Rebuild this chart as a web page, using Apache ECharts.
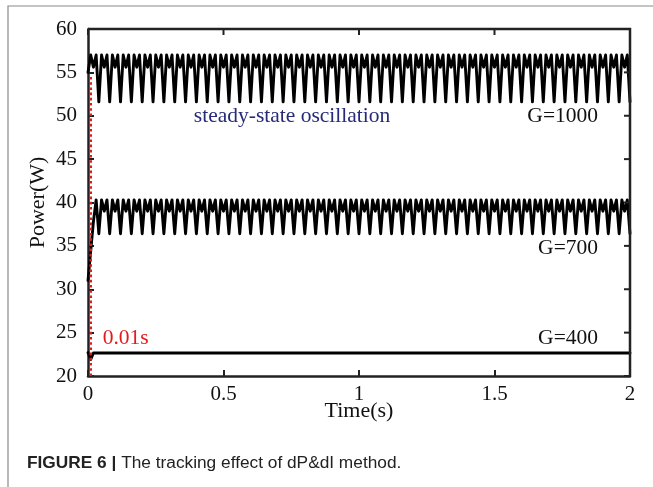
<!DOCTYPE html>
<html>
<head>
<meta charset="utf-8">
<script src="https://cdn.jsdelivr.net/npm/echarts@6/dist/echarts.min.js"></script>
<style>
  html, body { margin: 0; padding: 0; background: #fff; }
  #chart { width: 653px; height: 487px; }
</style>
</head>
<body>
<div id="chart"></div>
<script>
// Sampling step of the simulated power traces (s)
const sampleStep = 0.01;

// Output power (W) for irradiance G=1000, one sample every 10 ms from 0 to 2 s
const powerG1000 = [
  55.0, 57.0, 55.6, 57.0,
  51.6, 57.0, 55.6, 57.0, 51.6, 57.0, 55.6, 57.0, 51.6, 57.0, 55.6, 57.0, 51.6, 57.0, 55.6, 57.0,
  51.6, 57.0, 55.6, 57.0, 51.6, 57.0, 55.6, 57.0, 51.6, 57.0, 55.6, 57.0, 51.6, 57.0, 55.6, 57.0,
  51.6, 57.0, 55.6, 57.0, 51.6, 57.0, 55.6, 57.0, 51.6, 57.0, 55.6, 57.0, 51.6, 57.0, 55.6, 57.0,
  51.6, 57.0, 55.6, 57.0, 51.6, 57.0, 55.6, 57.0, 51.6, 57.0, 55.6, 57.0, 51.6, 57.0, 55.6, 57.0,
  51.6, 57.0, 55.6, 57.0, 51.6, 57.0, 55.6, 57.0, 51.6, 57.0, 55.6, 57.0, 51.6, 57.0, 55.6, 57.0,
  51.6, 57.0, 55.6, 57.0, 51.6, 57.0, 55.6, 57.0, 51.6, 57.0, 55.6, 57.0, 51.6, 57.0, 55.6, 57.0,
  51.6, 57.0, 55.6, 57.0, 51.6, 57.0, 55.6, 57.0, 51.6, 57.0, 55.6, 57.0, 51.6, 57.0, 55.6, 57.0,
  51.6, 57.0, 55.6, 57.0, 51.6, 57.0, 55.6, 57.0, 51.6, 57.0, 55.6, 57.0, 51.6, 57.0, 55.6, 57.0,
  51.6, 57.0, 55.6, 57.0, 51.6, 57.0, 55.6, 57.0, 51.6, 57.0, 55.6, 57.0, 51.6, 57.0, 55.6, 57.0,
  51.6, 57.0, 55.6, 57.0, 51.6, 57.0, 55.6, 57.0, 51.6, 57.0, 55.6, 57.0, 51.6, 57.0, 55.6, 57.0,
  51.6, 57.0, 55.6, 57.0, 51.6, 57.0, 55.6, 57.0, 51.6, 57.0, 55.6, 57.0, 51.6, 57.0, 55.6, 57.0,
  51.6, 57.0, 55.6, 57.0, 51.6, 57.0, 55.6, 57.0, 51.6, 57.0, 55.6, 57.0, 51.6, 57.0, 55.6, 57.0,
  51.6, 57.0, 55.6, 57.0,
  51.6
];

// Output power (W) for irradiance G=700, same time grid
const powerG700 = [
  31.0, 34.4, 37.8, 40.3,
  36.4, 40.3, 39.0, 40.3, 36.4, 40.3, 39.0, 40.3, 36.4, 40.3, 39.0, 40.3, 36.4, 40.3, 39.0, 40.3,
  36.4, 40.3, 39.0, 40.3, 36.4, 40.3, 39.0, 40.3, 36.4, 40.3, 39.0, 40.3, 36.4, 40.3, 39.0, 40.3,
  36.4, 40.3, 39.0, 40.3, 36.4, 40.3, 39.0, 40.3, 36.4, 40.3, 39.0, 40.3, 36.4, 40.3, 39.0, 40.3,
  36.4, 40.3, 39.0, 40.3, 36.4, 40.3, 39.0, 40.3, 36.4, 40.3, 39.0, 40.3, 36.4, 40.3, 39.0, 40.3,
  36.4, 40.3, 39.0, 40.3, 36.4, 40.3, 39.0, 40.3, 36.4, 40.3, 39.0, 40.3, 36.4, 40.3, 39.0, 40.3,
  36.4, 40.3, 39.0, 40.3, 36.4, 40.3, 39.0, 40.3, 36.4, 40.3, 39.0, 40.3, 36.4, 40.3, 39.0, 40.3,
  36.4, 40.3, 39.0, 40.3, 36.4, 40.3, 39.0, 40.3, 36.4, 40.3, 39.0, 40.3, 36.4, 40.3, 39.0, 40.3,
  36.4, 40.3, 39.0, 40.3, 36.4, 40.3, 39.0, 40.3, 36.4, 40.3, 39.0, 40.3, 36.4, 40.3, 39.0, 40.3,
  36.4, 40.3, 39.0, 40.3, 36.4, 40.3, 39.0, 40.3, 36.4, 40.3, 39.0, 40.3, 36.4, 40.3, 39.0, 40.3,
  36.4, 40.3, 39.0, 40.3, 36.4, 40.3, 39.0, 40.3, 36.4, 40.3, 39.0, 40.3, 36.4, 40.3, 39.0, 40.3,
  36.4, 40.3, 39.0, 40.3, 36.4, 40.3, 39.0, 40.3, 36.4, 40.3, 39.0, 40.3, 36.4, 40.3, 39.0, 40.3,
  36.4, 40.3, 39.0, 40.3, 36.4, 40.3, 39.0, 40.3, 36.4, 40.3, 39.0, 40.3, 36.4, 40.3, 39.0, 40.3,
  36.4, 40.3, 39.0, 40.3,
  36.4
];

// G=400 settles almost immediately, so a few breakpoints describe it
const timeG400 = [0, 0.01, 0.02, 2];
const powerG400 = [22.7, 21.9, 22.65, 22.65];

// Settling-time marker and its vertical span (W)
const settleTime = 0.01;
const settleSpan = [20, 54.6];

// Axis ticks
const timeTicks = [0, 0.5, 1, 1.5, 2];
const powerTicks = [20, 25, 30, 35, 40, 45, 50, 55, 60];

// Curve annotations: [text, power level the label sits at]
const curveLabels = [['G=1000', 49.9], ['G=700', 34.75], ['G=400', 24.35]];
const oscillationNote = 'steady-state oscillation';

const pairUp = (vals) => vals.map((v, i) => [+(i * sampleStep).toFixed(2), v]);

const serif = "'Liberation Serif', 'Times New Roman', serif";
const ink = '#111';

const chart = echarts.init(document.getElementById('chart'), null, { renderer: 'canvas' });

const traceStyle = { color: '#000', width: 2.9, join: 'round', cap: 'round' };

const option = {
  animation: false,
  grid: { left: 88, top: 29, right: 23, bottom: 111, containLabel: false },
  xAxis: {
    type: 'value',
    min: timeTicks[0],
    max: timeTicks[timeTicks.length - 1],
    interval: 0.5,
    name: 'Time(s)',
    nameLocation: 'middle',
    nameGap: 24,
    nameMoveOverlap: false,
    nameTextStyle: { fontFamily: serif, fontSize: 22, color: ink },
    axisLine: { show: true, onZero: false, lineStyle: { color: '#222', width: 2.5 } },
    axisTick: { show: true, inside: true, length: 6, lineStyle: { color: '#222', width: 2 } },
    axisLabel: { fontFamily: serif, fontSize: 21, color: ink, margin: 8 },
    splitLine: { show: false }
  },
  yAxis: {
    type: 'value',
    min: powerTicks[0],
    max: powerTicks[powerTicks.length - 1],
    interval: 5,
    name: 'Power(W)',
    nameLocation: 'middle',
    nameGap: 39,
    nameMoveOverlap: false,
    nameTextStyle: { fontFamily: serif, fontSize: 22, color: ink },
    axisLine: { show: true, onZero: false, lineStyle: { color: '#222', width: 2.5 } },
    axisTick: { show: true, inside: true, length: 6, lineStyle: { color: '#222', width: 2 } },
    axisLabel: { fontFamily: serif, fontSize: 21, color: ink, margin: 11 },
    splitLine: { show: false }
  },
  series: [
    {
      type: 'line', name: 'G=1000', data: pairUp(powerG1000),
      showSymbol: false, symbol: 'none', lineStyle: traceStyle, z: 3
    },
    {
      type: 'line', name: 'G=700', data: pairUp(powerG700),
      showSymbol: false, symbol: 'none', lineStyle: traceStyle, z: 3
    },
    {
      type: 'line', name: 'G=400', data: timeG400.map((t, i) => [t, powerG400[i]]),
      showSymbol: false, symbol: 'none', lineStyle: traceStyle, z: 3
    },
    {
      type: 'line', name: 'settle', data: settleSpan.map(p => [settleTime, p]),
      showSymbol: false, symbol: 'none',
      lineStyle: { color: '#e3191c', width: 2.6, type: [2.6, 2.6], cap: 'butt' },
      z: 5
    }
  ]
};

chart.setOption(option);

// Place the text annotations in data space
const toPx = (t, p) => chart.convertToPixel({ gridIndex: 0 }, [t, p]);
const rightX = toPx(1.882, 0)[0];
const graphics = curveLabels.map(([txt, p]) => ({
  type: 'text',
  x: rightX, y: toPx(0, p)[1],
  style: { text: txt, font: "21.5px " + serif, fill: ink, align: 'right', verticalAlign: 'middle' },
  z: 10
}));
const notePos = toPx(0.753, 49.9);
graphics.push({
  type: 'text', x: notePos[0], y: notePos[1],
  style: { text: oscillationNote, font: "21.5px " + serif, fill: '#272a78', align: 'center', verticalAlign: 'middle' },
  z: 10
});
const settlePos = toPx(settleTime, 24.3);
graphics.push({
  type: 'text', x: settlePos[0] + 12, y: settlePos[1],
  style: { text: settleTime + 's', font: "21.5px " + serif, fill: '#e3191c', align: 'left', verticalAlign: 'middle' },
  z: 10
});
// Closing frame on the top and right edges of the plot
const gr = chart.getModel().getComponent('grid').coordinateSystem.getRect();
graphics.push({
  type: 'polyline',
  shape: { points: [[gr.x, gr.y], [gr.x + gr.width, gr.y], [gr.x + gr.width, gr.y + gr.height]] },
  style: { stroke: '#222', lineWidth: 2.5, fill: null },
  z: 8
});
// Inward ticks mirrored on the right and top edges
powerTicks.forEach(p => {
  const py = toPx(0, p)[1];
  graphics.push({ type: 'line', shape: { x1: gr.x + gr.width - 6, y1: py, x2: gr.x + gr.width, y2: py },
    style: { stroke: '#222', lineWidth: 2 }, z: 8 });
});
timeTicks.forEach(t => {
  const px = toPx(t, 0)[0];
  graphics.push({ type: 'line', shape: { x1: px, y1: gr.y, x2: px, y2: gr.y + 6 },
    style: { stroke: '#222', lineWidth: 2 }, z: 8 });
});
// Page frame and caption
graphics.push({ type: 'polyline', shape: { points: [[8, 487], [8, 6], [653, 6]] },
  style: { stroke: '#8a8a8a', lineWidth: 1.2, fill: null }, z: 1 });
graphics.push({
  type: 'text', x: 27, y: 463,
  style: {
    text: '{b|FIGURE 6 |} The tracking effect of dP&dI method.',
    font: "17.3px 'Liberation Sans', Arial, sans-serif", fill: '#222', verticalAlign: 'middle',
    rich: { b: { font: "bold 17.3px 'Liberation Sans', Arial, sans-serif", fill: '#222' } }
  },
  z: 10
});
chart.setOption({ graphic: graphics });
</script>
</body>
</html>
